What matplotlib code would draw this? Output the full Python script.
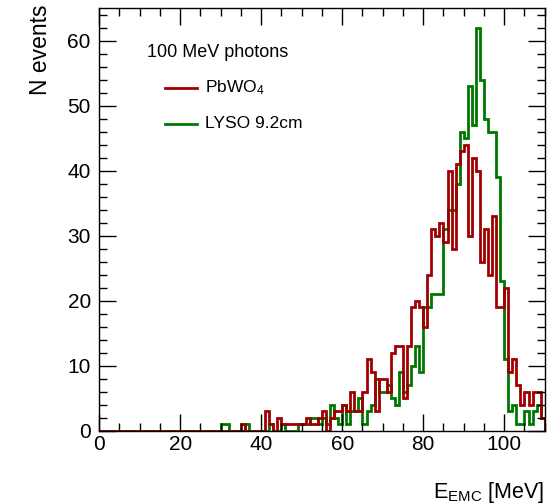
import numpy as np
import matplotlib
matplotlib.use("Agg")
import matplotlib.pyplot as plt
from matplotlib.ticker import MultipleLocator
from matplotlib.lines import Line2D

plt.rcParams['font.family'] = ['Liberation Sans', 'DejaVu Sans']
plt.rcParams['mathtext.fontset'] = 'custom'
plt.rcParams['mathtext.rm'] = 'Liberation Sans'
plt.rcParams['mathtext.it'] = 'Liberation Sans'

# 1 MeV bins from 0 to 110 MeV
bin_edges = np.arange(0, 111, 1)

# PbWO4 counts per bin (bins 0..109)
pbwo4_counts = [0] * 35 + [
    1, 0, 0, 0, 0, 0, 3, 1, 0, 2,        # 35-44
    1, 1, 1, 1, 1, 1, 2, 1, 1, 2,        # 45-54
    3, 0, 2, 3, 3, 4, 3, 6, 3, 3,        # 55-64
    6, 11, 9, 3, 8, 8, 6, 12, 13, 13,    # 65-74
    5, 13, 19, 20, 19, 16, 24, 31, 30, 32,   # 75-84
    29, 40, 28, 41, 43, 44, 30, 42, 40, 26,  # 85-94
    31, 24, 33, 19, 19, 22, 9, 11, 7, 4,     # 95-104
    6, 4, 6, 6, 2,                           # 105-109
]

# LYSO 9.2 cm counts per bin (bins 0..109)
lyso_counts = [0] * 30 + [
    1, 1, 0, 0, 0, 0, 1, 0, 0, 0,        # 30-39
    0, 0, 1, 0, 0, 1, 0, 0, 0, 1,        # 40-49
    1, 1, 2, 2, 1, 2, 1, 4, 2, 1,        # 50-59
    4, 1, 3, 3, 5, 1, 3, 4, 8, 6,        # 60-69
    6, 7, 5, 4, 9, 6, 7, 10, 13, 9,      # 70-79
    19, 19, 21, 21, 21, 31, 34, 34, 38, 46,  # 80-89
    45, 53, 47, 62, 54, 48, 46, 46, 39, 23,  # 90-99
    11, 3, 4, 1, 1, 3, 1, 3, 4, 2,           # 100-109
]

series_labels = ['PbWO$_{\\mathregular{4}}$', 'LYSO 9.2cm']
series_colors = ['#a00000', '#007800']
title_text = '100 MeV photons'

fig = plt.figure(figsize=(5.57, 5.04), dpi=100)
ax = fig.add_axes([0.178, 0.1454, 0.800, 0.8397])

ax.stairs(lyso_counts, bin_edges, color=series_colors[1], lw=2.0, baseline=0)
ax.stairs(pbwo4_counts, bin_edges, color=series_colors[0], lw=2.0, baseline=0)

ax.set_xlim(0, 110)
ax.set_ylim(0, 65.1)

ax.xaxis.set_major_locator(MultipleLocator(20))
ax.xaxis.set_minor_locator(MultipleLocator(5))
ax.yaxis.set_major_locator(MultipleLocator(10))
ax.yaxis.set_minor_locator(MultipleLocator(2))

ax.tick_params(which='both', direction='in', top=True, right=True,
               width=1.0, color='black', labelsize=15)
ax.tick_params(which='major', length=12)
ax.tick_params(which='minor', length=6)
ax.tick_params(axis='x', pad=3)
ax.tick_params(axis='y', pad=6)
for s in ax.spines.values():
    s.set_linewidth(1.0)

ax.set_xlabel('E$_{\\mathrm{EMC}}$ [MeV]', fontsize=15.5, loc='right')
ax.xaxis.set_label_coords(1.0, -0.117)
ax.set_ylabel('N events', fontsize=16.5, loc='top')
ax.yaxis.set_label_coords(-0.106, 1.006)

# legend block, placed in axes fractions
ax.text(0.107, 0.894, title_text, transform=ax.transAxes, fontsize=13,
        va='center', ha='left')
entry_y = [0.810, 0.725]
for lab, col, yy in zip(series_labels, series_colors, entry_y):
    ax.add_line(Line2D([0.1475, 0.219], [yy, yy], transform=ax.transAxes,
                       color=col, lw=2.0))
    ax.text(0.237, yy, lab, transform=ax.transAxes, fontsize=12.5,
            va='center', ha='left')

fig.savefig('out.png', dpi=100)
